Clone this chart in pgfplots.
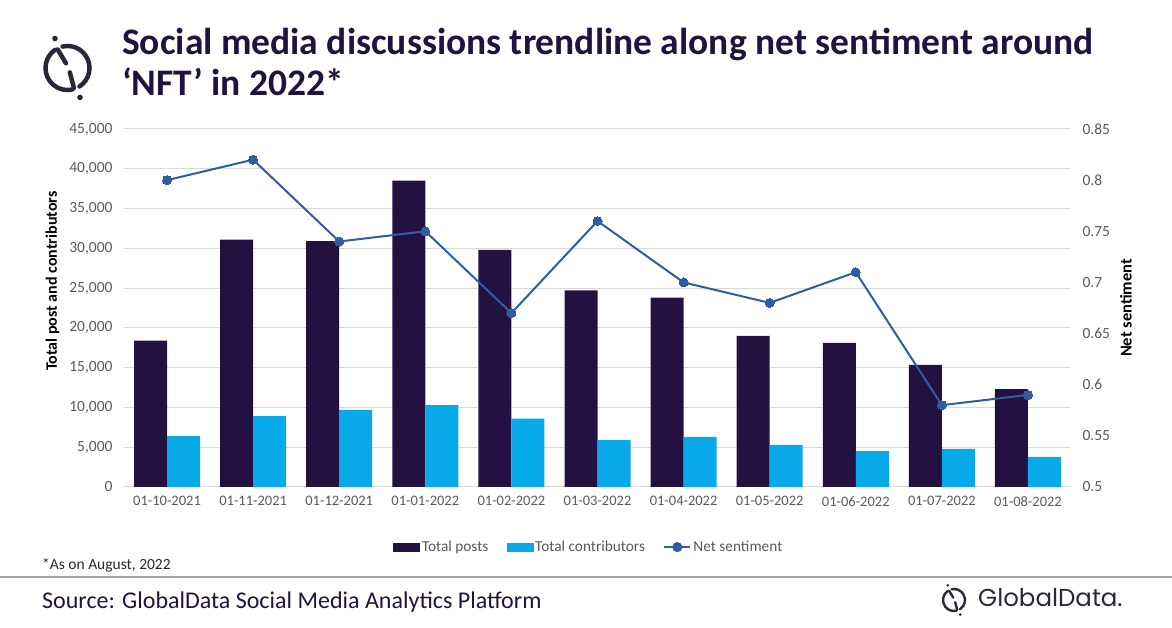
\documentclass[border=0pt]{standalone}
\usepackage{pgfplots}
\pgfplotsset{compat=1.18}
\usepackage{fontspec}
\setmainfont{Carlito}
\newfontfamily\poppins{Poppins}
\definecolor{darkbar}{HTML}{231141}
\definecolor{lightbar}{HTML}{07A9E9}
\definecolor{linec}{HTML}{2E5DA1}
\definecolor{titlec}{HTML}{22123F}
\definecolor{tickc}{HTML}{595959}
\definecolor{gridc}{HTML}{D9D9D9}
\definecolor{logoc}{HTML}{2A2838}
\pgfplotstableread{
x posts contrib sent
0 18400 6400 0.80
1 31100 8900 0.82
2 30900 9700 0.74
3 38500 10300 0.75
4 29800 8600 0.67
5 24700 5900 0.76
6 23800 6300 0.70
7 19000 5300 0.68
8 18100 4500 0.71
9 15350 4800 0.58
10 12300 3800 0.59
}\datatable
\begin{document}
\begin{tikzpicture}
\path[use as bounding box] (0pt,0pt) rectangle (1172pt,628pt);
% title
\node[anchor=base west, inner sep=0pt, text=titlec, font=\fontsize{37.5}{44}\selectfont\bfseries] at (122pt,573pt) {Social media discussions trendline along net sentiment around};
\node[anchor=base west, inner sep=0pt, text=titlec, font=\fontsize{37.5}{44}\selectfont\bfseries] at (122pt,532pt) {‘NFT’ in 2022*};
% top logo
\begin{scope}[shift={(67.5pt,560pt)}, line width=4.5pt, draw=logoc, line cap=round]
\draw (125:22pt) arc[start angle=125, end angle=283, radius=22pt];
\draw (-57:22pt) arc[start angle=-57, end angle=103, radius=22pt];
\draw (118:21pt) -- (108:5pt);
\draw (298:5pt) -- (288:21pt);
\fill[logoc] (113:32pt) circle (2.8pt);
\fill[logoc] (293:32pt) circle (2.8pt);
\end{scope}
\begin{axis}[
  at={(124pt,141pt)}, anchor=south west,
  scale only axis, width=947pt, height=358pt,
  xmin=-0.5, xmax=10.5, ymin=0, ymax=45000,
  ytick distance=5000,
  xtick=data,
  xticklabels={01-10-2021,01-11-2021,01-12-2021,01-01-2022,01-02-2022,01-03-2022,01-04-2022,01-05-2022,01-06-2022,01-07-2022,01-08-2022},
  ymajorgrids, grid style={gridc, line width=1pt},
  axis x line*=bottom, axis y line*=left,
  x axis line style={gridc, line width=1pt, -},
  y axis line style={draw=none},
  major tick length=0pt,
  yticklabel style={font=\fontsize{15.5}{18}\selectfont, text=tickc, xshift=-8pt},
  xticklabel style={font=\fontsize{14.5}{17}\selectfont, text=tickc, yshift=-6pt},
  /pgf/number format/assume math mode=true,
  /pgf/number format/1000 sep={,},
  scaled y ticks=false,
  ylabel={Total post and contributors},
  ylabel style={font=\fontsize{16}{18}\selectfont\bfseries, text=black, at={(axis description cs:-0.0755,0.575)}, anchor=center, rotate=0},
  ybar=0pt, bar width=33pt,
]
\addplot[fill=darkbar, draw=none] table[x=x, y=posts]{\datatable};
\addplot[fill=lightbar, draw=none] table[x=x, y=contrib]{\datatable};
\end{axis}
\begin{axis}[
  at={(124pt,141pt)}, anchor=south west,
  scale only axis, width=947pt, height=358pt,
  xmin=-0.5, xmax=10.5, ymin=0.5, ymax=0.85,
  ytick distance=0.05,
  axis x line=none, axis y line*=right,
  y axis line style={draw=none},
  major tick length=0pt,
  yticklabel style={font=\fontsize{15.5}{18}\selectfont, text=tickc, xshift=8pt, /pgf/number format/fixed, /pgf/number format/precision=2},
  /pgf/number format/assume math mode=true,
  ylabel={Net sentiment},
  ylabel style={font=\fontsize{16.5}{18}\selectfont\bfseries, text=black, at={(axis description cs:1.058,0.5)}, anchor=center, rotate=0},
  legend columns=-1,
  legend style={at={(axis description cs:0.491,-0.168)}, anchor=center, draw=none, fill=none,
    font=\fontsize{15.3}{17}\selectfont, text=tickc,
    nodes={inner sep=2.2pt},
    /tikz/every even column/.append style={column sep=16pt}},
]
\addlegendimage{legend image code/.code={\fill[darkbar] (0pt,-4pt) rectangle (26pt,4pt);}}
\addlegendentry{Total posts}
\addlegendimage{legend image code/.code={\fill[lightbar] (0pt,-4pt) rectangle (26pt,4pt);}}
\addlegendentry{Total contributors}
\addplot[linec, line width=2pt, mark=*, mark size=4.5pt, mark options={fill=linec, draw=linec, line width=0pt},
  legend image code/.code={\draw[linec, line width=2pt] (0pt,0pt) -- (26pt,0pt); \fill[linec] (13pt,0pt) circle (4pt);}]
  table[x=x, y=sent]{\datatable};
\addlegendentry{Net sentiment}
\end{axis}
% footnote and source
\node[anchor=base west, inner sep=0pt, font=\fontsize{15.5}{18}\selectfont, text=black!85] at (42pt,58pt) {*As on August, 2022};
\draw[color=black!35, line width=1.5pt] (0pt,51pt) -- (1172pt,51pt);
\node[anchor=base west, inner sep=0pt, font=\fontsize{24}{28}\selectfont, text=titlec] at (42pt,19pt) {Source: GlobalData Social Media Analytics Platform};
% bottom logo
\begin{scope}[shift={(954pt,28pt)}, line width=2.4pt, draw=logoc, line cap=round]
\draw (125:11pt) arc[start angle=125, end angle=283, radius=11pt];
\draw (-57:11pt) arc[start angle=-57, end angle=103, radius=11pt];
\draw (118:10.5pt) -- (108:2.5pt);
\draw (298:2.5pt) -- (288:10.5pt);
\fill[logoc] (113:16pt) circle (1.5pt);
\fill[logoc] (293:16pt) circle (1.5pt);
\end{scope}
\node[anchor=base west, inner sep=0pt, font=\poppins\fontsize{24.5}{28}\selectfont, text=logoc] at (978pt,21pt) {GlobalData.};
\end{tikzpicture}
\end{document}
